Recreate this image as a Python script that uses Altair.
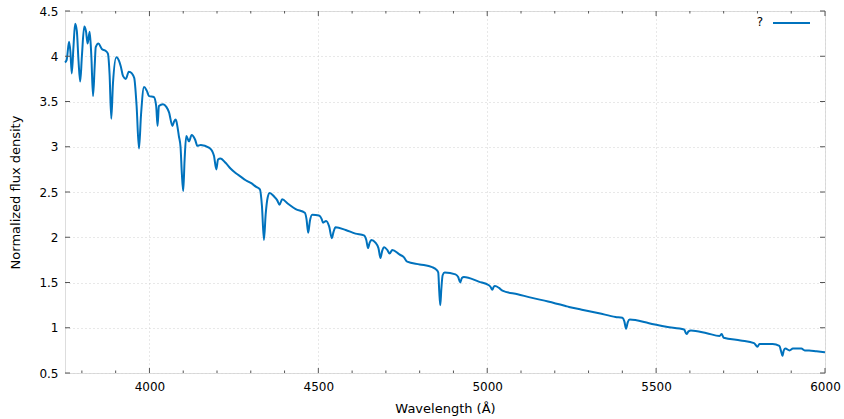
import altair as alt
import pandas as pd

# Spectrum
wavelength = [
    3750, 3755, 3762, 3766, 3770, 3775, 3780, 3785, 3790, 3795, 3800, 3807, 3812, 3817,
    3823, 3828, 3833, 3838, 3841, 3849, 3859, 3870, 3877, 3882, 3887, 3892, 3902, 3910,
    3915, 3922, 3930, 3939, 3948, 3955, 3962, 3969, 3975, 3984, 3992, 3999, 4013, 4020,
    4024, 4028, 4040, 4050, 4058, 4068, 4073, 4078, 4083, 4087, 4092, 4096, 4100, 4104,
    4109, 4117, 4125, 4135, 4142, 4152, 4176, 4186, 4191, 4198, 4203, 4210, 4226, 4240,
    4255, 4270, 4285, 4300, 4315, 4327, 4333, 4339, 4344, 4350, 4356, 4369, 4378, 4385,
    4393, 4410, 4433, 4460, 4465, 4470, 4475, 4482, 4502, 4510, 4514, 4523, 4532, 4540,
    4545, 4551, 4581, 4610, 4635, 4642, 4647, 4652, 4657, 4669, 4678, 4684, 4689, 4695,
    4704, 4711, 4719, 4740, 4753, 4763, 4800, 4837, 4850, 4855, 4858, 4861, 4864, 4868,
    4874, 4906, 4914, 4920, 4925, 4931, 4975, 5005, 5010, 5015, 5019, 5023, 5035, 5045,
    5090, 5133, 5180, 5232, 5242, 5280, 5331, 5380, 5400, 5406, 5411, 5416, 5422, 5479,
    5530, 5583, 5590, 5596, 5603, 5650, 5688, 5694, 5700, 5750, 5790, 5800, 5806, 5845,
    5865, 5870, 5874, 5878, 5883, 5895, 5905, 5930, 5940, 5953, 5975, 6000,
]
flux = [
    3.93, 3.96, 4.16, 4.05, 3.81, 4.10, 4.36, 4.28, 3.95, 3.72, 4.00, 4.33, 4.28, 4.14,
    4.27, 4.00, 3.56, 3.90, 4.10, 4.14, 4.08, 4.06, 4.03, 3.80, 3.31, 3.70, 3.99, 3.95,
    3.89, 3.78, 3.75, 3.83, 3.81, 3.76, 3.45, 2.98, 3.35, 3.66, 3.62, 3.56, 3.55, 3.45,
    3.23, 3.45, 3.47, 3.44, 3.38, 3.23, 3.28, 3.30, 3.22, 3.12, 3.00, 2.70, 2.51, 2.85,
    3.12, 3.06, 3.13, 3.08, 3.01, 3.02, 2.99, 2.95, 2.90, 2.75, 2.86, 2.87, 2.82, 2.76,
    2.71, 2.67, 2.63, 2.60, 2.56, 2.53, 2.35, 1.97, 2.25, 2.44, 2.49, 2.45, 2.41, 2.36,
    2.42, 2.37, 2.31, 2.27, 2.20, 2.05, 2.18, 2.25, 2.24, 2.20, 2.16, 2.18, 2.12, 1.99,
    2.06, 2.11, 2.08, 2.04, 2.02, 1.97, 1.88, 1.94, 1.97, 1.94, 1.88, 1.77, 1.85, 1.89,
    1.86, 1.82, 1.86, 1.81, 1.78, 1.73, 1.70, 1.67, 1.64, 1.61, 1.40, 1.25, 1.42, 1.58,
    1.61, 1.59, 1.56, 1.50, 1.55, 1.56, 1.51, 1.47, 1.45, 1.42, 1.45, 1.46, 1.44, 1.41,
    1.37, 1.33, 1.29, 1.24, 1.23, 1.20, 1.16, 1.12, 1.11, 1.07, 0.99, 1.06, 1.09, 1.05,
    1.01, 0.98, 0.93, 0.96, 0.97, 0.94, 0.91, 0.93, 0.89, 0.86, 0.83, 0.79, 0.82, 0.82,
    0.80, 0.74, 0.69, 0.75, 0.77, 0.75, 0.77, 0.77, 0.75, 0.75, 0.74, 0.73,
]

x_major = [4000, 4500, 5000, 5500, 6000]
x_minor = [3800, 3900, 4100, 4200, 4300, 4400, 4600, 4700, 4800, 4900,
           5100, 5200, 5300, 5400, 5600, 5700, 5800, 5900]
y_major = [0.5, 1, 1.5, 2, 2.5, 3, 3.5, 4, 4.5]
legend_labels = ["?"]

df = pd.DataFrame({"wavelength": wavelength, "flux": flux})

BLUE = "#0072bd"
FONT = "DejaVu Sans"
AXC = "#555555"
GRID = "#d0d0d0"
W, H = 760, 362

xscale = alt.Scale(domain=[3750, 6000], nice=False, zero=False)
yscale = alt.Scale(domain=[0.5, 4.5], nice=False, zero=False)

line = alt.Chart(df).mark_line(color=BLUE, strokeWidth=2, interpolate="monotone").encode(
    x=alt.X("wavelength:Q", scale=xscale,
            axis=alt.Axis(values=x_major, format="d", grid=True, gridDash=[1, 3],
                          gridColor=GRID, ticks=False, tickSize=0, domain=False,
                          labelFlush=False, labelPadding=8, labelFontSize=12, labelFont=FONT,
                          labelColor="#000", title="Wavelength (Å)", titleFont=FONT,
                          titleFontSize=13, titleFontWeight="normal", titleColor="#000",
                          titlePadding=10)),
    y=alt.Y("flux:Q", scale=yscale,
            axis=alt.Axis(values=y_major, format="~g", grid=True, gridDash=[1, 3],
                          gridColor=GRID, ticks=False, tickSize=0, domain=False,
                          labelFlush=False, labelPadding=7, labelFontSize=12, labelFont=FONT,
                          labelColor="#000", title="Normalized flux density", titleFont=FONT,
                          titleFontSize=13, titleFontWeight="normal", titleColor="#000",
                          titlePadding=16)),
)

# inward tick marks (gnuplot style) on all four sides
xt_major = pd.DataFrame({"v": x_major})
xt_minor = pd.DataFrame({"v": x_minor})
yt_major = pd.DataFrame({"v": y_major})

def xticks(d, y0, y1):
    return alt.Chart(d).mark_rule(color=AXC, strokeWidth=1).encode(
        x=alt.X("v:Q", scale=xscale, axis=None), y=alt.value(y0), y2=alt.value(y1))

def yticks(d, x0, x1):
    return alt.Chart(d).mark_rule(color=AXC, strokeWidth=1).encode(
        y=alt.Y("v:Q", scale=yscale, axis=None), x=alt.value(x0), x2=alt.value(x1))

ticks = [
    xticks(xt_major, H, H - 5), xticks(xt_major, 0, 5),
    xticks(xt_minor, H, H - 2.5), xticks(xt_minor, 0, 2.5),
    yticks(yt_major, 0, 5), yticks(yt_major, W, W - 5),
]

leg_df = pd.DataFrame({"label": legend_labels})
leg_text = alt.Chart(leg_df).mark_text(align="right", baseline="middle", font=FONT,
                                       fontSize=12, color="#000").encode(
    text="label:N", x=alt.value(698), y=alt.value(11))
leg_line = alt.Chart(leg_df).mark_rule(color=BLUE, strokeWidth=2).encode(
    x=alt.value(708), x2=alt.value(745), y=alt.value(12))

chart = alt.layer(line, *ticks, leg_text, leg_line).resolve_axis(
    x="independent", y="independent"
).properties(
    width=W, height=H,
    autosize=alt.AutoSizeParams(type="none"),
    padding={"left": 65, "top": 11, "right": 19, "bottom": 46},
).configure_view(stroke=AXC, strokeWidth=1).configure(background="white")

chart.save("out.html", embed_options={"renderer": "svg", "actions": False})
